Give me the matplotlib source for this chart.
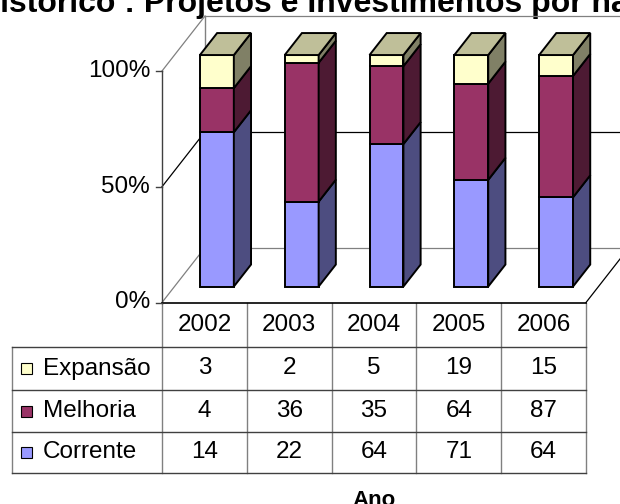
import matplotlib
matplotlib.use("Agg")
import matplotlib.pyplot as plt
from matplotlib.patches import Polygon, Rectangle

# anos e séries do histórico
anos = ["2002", "2003", "2004", "2005", "2006"]
series = ["Expansão", "Melhoria", "Corrente"]
expansao = [3, 2, 5, 19, 15]
melhoria = [4, 36, 35, 64, 87]
corrente = [14, 22, 64, 71, 64]
pct_ticks = [0, 50, 100]
pct_labels = ["0%", "50%", "100%"]

# frente, lateral, topo
CORES = {
    "Corrente": ("#9999FF", "#4D4D80", "#7373BF"),
    "Melhoria": ("#993366", "#4D1A33", "#73264D"),
    "Expansão": ("#FFFFCC", "#808066", "#BFBF99"),
}

W, H = 620, 504
X0, X1 = 162, 586          # plano frontal em pixels
Y0, Y1 = 302.5, 71
COL = (X1 - X0) / len(anos)
DX = 43 / COL              # profundidade em unidades de dados
DY = 55 / ((Y0 - Y1) / 100)
BAR_X, BAR_W = 0.3, 0.4
Z0, Z1 = 0.29, 0.69
FS = 17.5

plt.rcParams["font.family"] = ["Liberation Sans", "DejaVu Sans"]

fig = plt.figure(figsize=(W / 100, H / 100), dpi=100)
base = fig.add_axes([0, 0, 1, 1])
base.set_xlim(0, W)
base.set_ylim(H, 0)
base.axis("off")

ax = fig.add_axes([X0 / W, 1 - Y0 / H, (X1 - X0) / W, (Y0 - Y1) / H])
ax.set_xlim(0, len(anos))
ax.set_ylim(0, 100)
ax.axis("off")
ax.patch.set_alpha(0)

n = len(anos)
GRAY = "#808080"

# paredes
for v in pct_ticks:
    c = "black" if v == 50 else GRAY
    ax.plot([DX, n + DX + 1], [v + DY, v + DY], color=c, lw=0.9, clip_on=False, zorder=1)
    ax.plot([0, DX], [v, v + DY], color=c, lw=0.9, clip_on=False, zorder=1)
ax.plot([DX, DX], [DY, 100 + DY], color=GRAY, lw=1.0, clip_on=False, zorder=1)
ax.plot([n, n + DX], [0, DY], color="black", lw=0.9, clip_on=False, zorder=1)
ax.plot([0, 0], [0, 100], color="#404040", lw=1.0, clip_on=False, zorder=2)
ax.plot([0, n], [0, 0], color="black", lw=1.2, clip_on=False, zorder=2)
for v, lab in zip(pct_ticks, pct_labels):
    ax.plot([-0.07, 0], [v, v], color="#404040", lw=1.0, clip_on=False, zorder=2)
    ax.text(-0.14, v, lab, ha="right", va="center", fontsize=FS, clip_on=False)

# colunas 100% empilhadas
valores = {"Corrente": corrente, "Melhoria": melhoria, "Expansão": expansao}
ordem = ["Corrente", "Melhoria", "Expansão"]
ddx = (Z1 - Z0) * DX
ddy = (Z1 - Z0) * DY
for i in range(n):
    total = sum(valores[s][i] for s in ordem)
    xl = i + BAR_X + Z0 * DX
    xr = xl + BAR_W
    y = Z0 * DY
    for s in ordem:
        h = valores[s][i] / total * 100
        frente, lado, topo = CORES[s]
        ax.add_patch(Rectangle((xl, y), BAR_W, h, facecolor=frente, edgecolor="black",
                               lw=1.4, clip_on=False, zorder=3))
        ax.add_patch(Polygon([(xr, y), (xr + ddx, y + ddy), (xr + ddx, y + h + ddy), (xr, y + h)],
                             facecolor=lado, edgecolor="black", lw=1.4, clip_on=False, zorder=3))
        y += h
    frente, lado, topo = CORES[ordem[-1]]
    ax.add_patch(Polygon([(xl, y), (xr, y), (xr + ddx, y + ddy), (xl + ddx, y + ddy)],
                         facecolor=topo, edgecolor="black", lw=1.4, clip_on=False, zorder=3))

# tabela de dados
linhas_y = [303, 347, 390, 432, 473]
col_x = [X0 + k * COL for k in range(n + 1)]
LEG_X = 12
for x in col_x:
    base.plot([x, x], [linhas_y[0], linhas_y[-1]], color=GRAY, lw=1.0)
base.plot([LEG_X, LEG_X], [linhas_y[1], linhas_y[-1]], color=GRAY, lw=1.0)
for yy in linhas_y[1:]:
    base.plot([LEG_X, X1], [yy, yy], color="#404040", lw=1.0)

for k, ano in enumerate(anos):
    xc = (col_x[k] + col_x[k + 1]) / 2
    base.text(xc, (linhas_y[0] + linhas_y[1]) / 2, ano, ha="center", va="center", fontsize=FS)

for r, s in enumerate(series):
    yc = (linhas_y[r + 1] + linhas_y[r + 2]) / 2
    base.add_patch(Rectangle((21, yc - 5.5), 11, 11, facecolor=CORES[s][0],
                             edgecolor="black", lw=0.8))
    base.text(43, yc, s, ha="left", va="center", fontsize=FS)
    for k in range(n):
        xc = (col_x[k] + col_x[k + 1]) / 2
        base.text(xc, yc, str(valores[s][k]), ha="center", va="center", fontsize=FS)

base.text((X0 + X1) / 2, 506, "Ano", ha="center", va="baseline", fontsize=16, fontweight="bold")
base.text(-23, 12, "Histórico : Projetos e Investimentos por natureza", ha="left",
          va="baseline", fontsize=23, fontweight="bold")

fig.savefig("out.png", dpi=100)
